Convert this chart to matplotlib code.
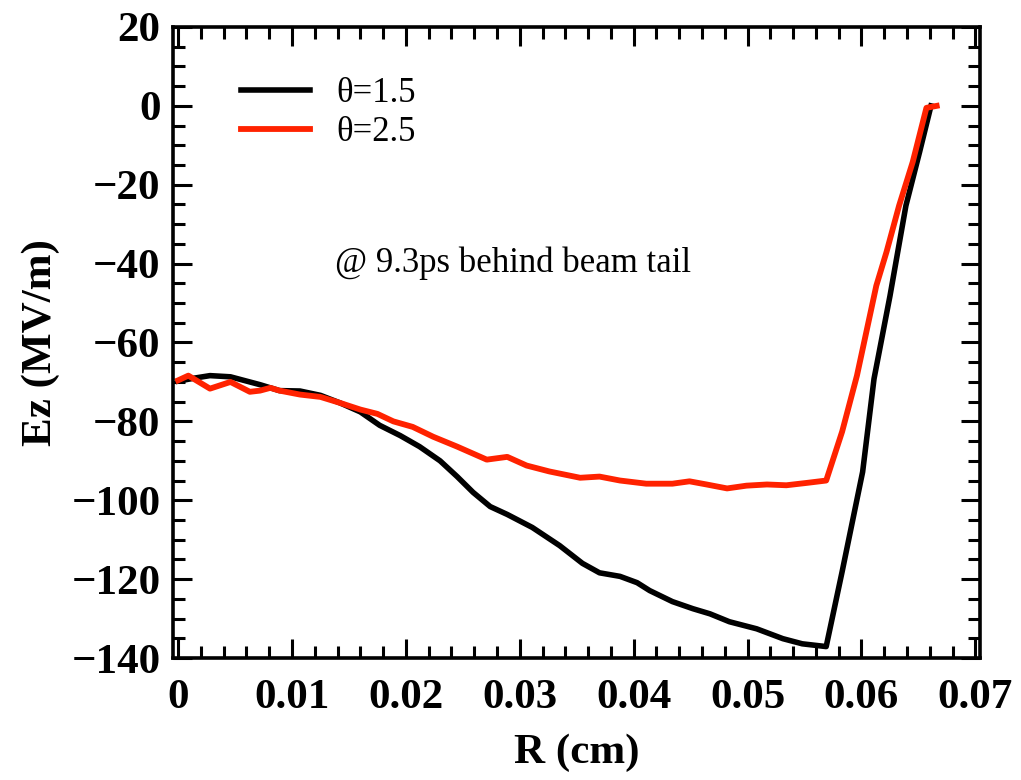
import matplotlib
matplotlib.use("Agg")
import matplotlib.pyplot as plt
from matplotlib.ticker import MultipleLocator

plt.rcParams['font.family'] = ['Liberation Serif', 'DejaVu Serif']

# theta = 1.5
r_15 = [0.0, 0.0015, 0.0028, 0.0046, 0.0072, 0.0089, 0.0107, 0.0125, 0.0142, 0.0160,
        0.0177, 0.0195, 0.0212, 0.0230, 0.0245, 0.0259, 0.0274, 0.0289, 0.0311, 0.0335,
        0.0355, 0.0370, 0.0388, 0.0403, 0.0414, 0.0434, 0.0452, 0.0467, 0.0484, 0.0508,
        0.0531, 0.0548, 0.0569, 0.0583, 0.0601, 0.0611, 0.0625, 0.0639, 0.0651, 0.0661]
ez_15 = [-69.8, -69.0, -68.4, -68.7, -70.7, -72.2, -72.3, -73.4, -75.3, -77.6,
         -81.0, -83.6, -86.4, -90.0, -94.0, -98.0, -101.6, -103.6, -106.9, -111.5,
         -116.0, -118.4, -119.3, -120.9, -122.9, -125.7, -127.5, -128.8, -130.8, -132.6,
         -135.1, -136.4, -137.1, -118.1, -92.8, -69.2, -48.2, -25.3, -11.7, 0.0]

# theta = 2.5
r_25 = [0.0, 0.0009, 0.0028, 0.0046, 0.0063, 0.0072, 0.0081, 0.0089, 0.0107, 0.0125,
        0.0142, 0.0160, 0.0175, 0.0189, 0.0206, 0.0224, 0.0245, 0.0271, 0.0289, 0.0306,
        0.0326, 0.0353, 0.0370, 0.0388, 0.0411, 0.0434, 0.0449, 0.0464, 0.0482, 0.0499,
        0.0517, 0.0534, 0.0552, 0.0569, 0.0583, 0.0596, 0.0613, 0.0622, 0.0633, 0.0645,
        0.0657, 0.0666]
ez_25 = [-69.6, -68.4, -71.7, -70.0, -72.5, -72.2, -71.5, -72.2, -73.2, -73.8,
         -75.3, -77.0, -78.1, -80.0, -81.4, -83.9, -86.4, -89.7, -89.0, -91.2,
         -92.7, -94.3, -94.0, -95.0, -95.8, -95.8, -95.2, -96.0, -97.0, -96.3,
         -96.0, -96.2, -95.6, -95.0, -82.6, -68.4, -45.6, -37.0, -25.3, -14.2,
         -0.5, 0.0]

labels = ['θ=1.5', 'θ=2.5']
annotation = '@ 9.3ps behind beam tail'
xtick_vals = [0, 0.01, 0.02, 0.03, 0.04, 0.05, 0.06, 0.07]
xtick_labels = ['0', '0.01', '0.02', '0.03', '0.04', '0.05', '0.06', '0.07']

fig = plt.figure(figsize=(10.21, 7.80), dpi=100)
ax = fig.add_axes([0.1694, 0.1564, 0.7904, 0.809])

ax.plot(r_15, ez_15, color='black', lw=4.0, label=labels[0])
ax.plot(r_25, ez_25, color='#ff2200', lw=4.2, label=labels[1])

ax.set_xlim(-0.00045, 0.0704)
ax.set_ylim(-140, 20)

ax.xaxis.set_minor_locator(MultipleLocator(0.002))
ax.yaxis.set_major_locator(MultipleLocator(20))
ax.yaxis.set_minor_locator(MultipleLocator(5))
ax.set_xticks(xtick_vals)
ax.set_xticklabels(xtick_labels)

ax.tick_params(which='both', direction='in', top=True, right=True, width=2.2,
               labelsize=31)
ax.tick_params(which='major', length=14, pad=9)
ax.tick_params(which='minor', length=8.5)
ax.tick_params(axis='x', which='major', pad=15)
for lab in ax.get_xticklabels() + ax.get_yticklabels():
    lab.set_fontweight('bold')
for s in ax.spines.values():
    s.set_linewidth(2.6)

ax.set_xlabel('R (cm)', fontsize=31, fontweight='bold', labelpad=12)
ax.set_ylabel('Ez (MV/m)', fontsize=31, fontweight='bold', labelpad=8)

ax.text(0.0138, -40, annotation, fontsize=25, ha='left', va='center')

leg = ax.legend(loc='upper left', bbox_to_anchor=(0.067, 0.942), frameon=False,
                fontsize=25, handlelength=2.0, handletextpad=0.75,
                labelspacing=0.15, borderaxespad=0)

fig.savefig('out.png', dpi=100)
